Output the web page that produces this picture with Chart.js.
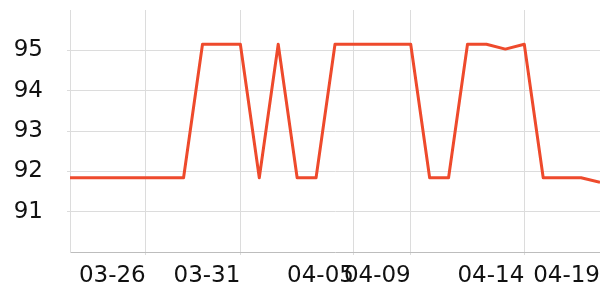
<!DOCTYPE html>
<html>
<head>
<meta charset="utf-8">
<script src="https://cdn.jsdelivr.net/npm/chart.js@4/dist/chart.umd.min.js"></script>
<style>
  html, body { margin: 0; padding: 0; background: #fff; }
  #wrap { width: 600px; height: 300px; }
</style>
</head>
<body>
<div id="wrap"><canvas id="chartCanvas"></canvas></div>
<script>
// one date per point
const dates = [
  '03-22', '03-23', '03-24', '03-25', '03-26', '03-27', '03-28', '03-29', '03-30', '03-31',
  '04-01', '04-01', '04-02', '04-03', '04-04', '04-05', '04-06', '04-07', '04-09',
  '04-10', '04-10', '04-11', '04-12', '04-13', '04-14', '04-15', '04-16', '04-17', '04-19'
]

// labels actually printed under the axis
const shownDates = ['03-26', '03-31', '04-05', '04-09', '04-14', '04-19']

const values = [
  91.84, 91.84, 91.84, 91.84, 91.84, 91.84, 91.84, 95.15, 95.15, 95.15,
  91.84, 95.15, 91.84, 91.84, 95.15, 95.15, 95.15, 95.15, 95.15,
  91.84, 91.84, 95.15, 95.15, 95.03, 95.15, 91.84, 91.84, 91.84, 91.73
]

const yTicks = [91, 92, 93, 94, 95]

const font = { family: 'DejaVu Sans', size: 23 }

new Chart(document.getElementById('chartCanvas'), {
  type: 'line',
  data: {
    labels: dates,
    datasets: [{
      data: values,
      borderColor: '#ee4a2c',
      borderWidth: 3,
      borderJoinStyle: 'round',
      pointRadius: 0,
      tension: 0,
      fill: false
    }]
  },
  options: {
    responsive: true,
    maintainAspectRatio: false,
    animation: false,
    layout: { padding: { left: 14, top: 10, right: 0, bottom: 0 } },
    plugins: { legend: { display: false }, tooltip: { enabled: false } },
    scales: {
      x: {
        offset: false,
        grid: { color: '#dcdcdc', tickLength: 3 },
        border: { color: '#bdbdbd' },
        ticks: {
          autoSkip: false,
          maxRotation: 0,
          minRotation: 0,
          align: 'end',
          padding: 7,
          color: '#111',
          font: font,
          callback: function (val, i) {
            const d = dates[i]
            return shownDates.includes(d) ? d : null
          }
        },
        afterFit: function (scale) {
          scale.height = 48
          scale.paddingLeft = 0
          scale.paddingRight = 0
        }
      },
      y: {
        min: 90,
        max: 96,
        grid: { color: '#dcdcdc', tickLength: 3 },
        border: { color: '#dcdcdc' },
        ticks: {
          stepSize: 1,
          padding: 24,
          color: '#111',
          font: font,
          callback: function (val) {
            return yTicks.includes(val) ? String(val) : null
          }
        },
        afterFit: function (scale) {
          scale.width = 56
          scale.paddingTop = 0
          scale.paddingBottom = 0
        }
      }
    }
  }
})
</script>
</body>
</html>
